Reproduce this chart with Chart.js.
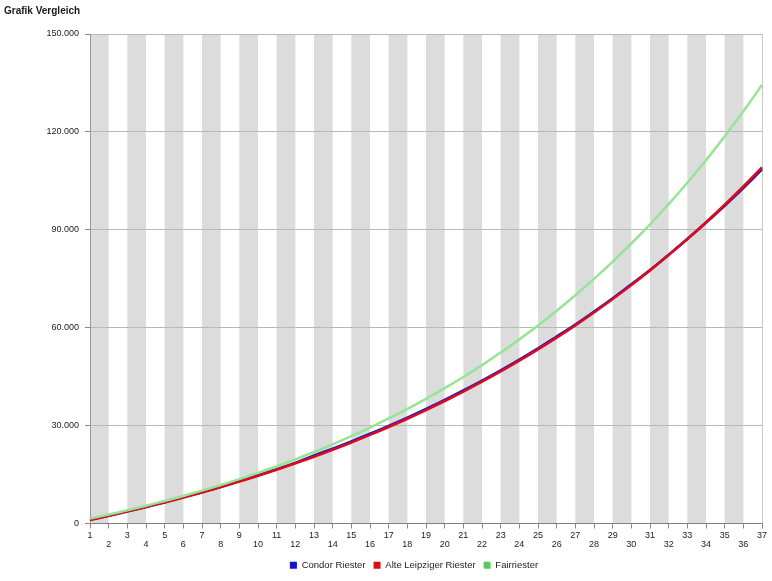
<!DOCTYPE html>
<html>
<head>
<meta charset="utf-8">
<script src="https://cdn.jsdelivr.net/npm/chart.js@4.4.1/dist/chart.umd.min.js"></script>
<style>
    html, body { margin: 0; padding: 0; background: #fff; overflow: hidden; }
</style>
</head>
<body>
<canvas id="myChart" width="772" height="581"></canvas>
<script>
// Jahre 1..37
var Jahre = [];
for (var j = 1; j <= 37; j++) { Jahre.push(String(j)); }

var Condor = [1150, 2400, 3710, 5080, 6510, 8010, 9570, 11200, 13010, 14790, 16650, 18600, 20830, 22960, 25180, 27500, 29930, 32460, 35110, 37880, 40770, 43800, 46960, 50260, 53710, 57310, 60980, 64920, 69030, 73330, 77670, 82370, 87170, 92150, 97360, 102810, 108510];
var AlteLeipziger = [1100, 2350, 3660, 5030, 6460, 7960, 9520, 11150, 12860, 14640, 16500, 18450, 20480, 22610, 24830, 27150, 29580, 32110, 34760, 37530, 40420, 43450, 46610, 49910, 53360, 56960, 60730, 64670, 68780, 73080, 77570, 82270, 87170, 92300, 97660, 103260, 109110];
var Fairriester = [1500, 2750, 4060, 5440, 6910, 8450, 10080, 11790, 13600, 15510, 17530, 19660, 21900, 24270, 26760, 29400, 32180, 35110, 38200, 41470, 44910, 48540, 52380, 56420, 60680, 65180, 69930, 74940, 80230, 85800, 91680, 97890, 104430, 111340, 118630, 126310, 134420];

var yTicks = [0, 30000, 60000, 90000, 120000, 150000];

function tausender(v) {
    return String(v).replace(/\B(?=(\d{3})+(?!\d))/g, '.');
}

// graue Streifen hinter dem Diagramm
var streifen = {
    id: 'streifen',
    beforeDraw: function (chart) {
        var ctx = chart.ctx;
        var x = chart.scales.x;
        var area = chart.chartArea;
        ctx.save();
        ctx.fillStyle = '#dcdcdc';
        for (var i = 0; i < Jahre.length - 1; i += 2) {
            var x1 = x.getPixelForTick(i);
            var x2 = x.getPixelForTick(i + 1);
            ctx.fillRect(x1, area.top, x2 - x1, area.bottom - area.top);
        }
        ctx.restore();
    }
};

// Legende etwas nach rechts ruecken (wie im Original)
var legendeVerschieben = {
    id: 'legendeVerschieben',
    afterLayout: function (chart) {
        var lg = chart.legend;
        if (!lg) return;
        var d = 414 - (lg.left + lg.right) / 2;
        lg.left += d;
        lg.right += d;
    }
};

window.onload = function () {
    var schrift = '"Liberation Sans", Arial, sans-serif';
    var chartdata = {
        labels: Jahre,
        datasets: [
            {
                label: 'Condor Riester',
                data: Condor,
                borderColor: '#1818c8',
                legendColor: '#1212c8',
                borderWidth: 2.5,
                order: 3
            },
            {
                label: 'Alte Leipziger Riester',
                data: AlteLeipziger,
                borderColor: '#dc0a1e',
                legendColor: '#dc0a14',
                borderWidth: 2.6,
                order: 2
            },
            {
                label: 'Fairriester',
                data: Fairriester,
                borderColor: '#96e496',
                legendColor: '#5cc85c',
                borderWidth: 2.5,
                order: 1
            }
        ]
    };

    var ctx = document.getElementById('myChart');
    var lineGraph = new Chart(ctx, {
        type: 'line',
        data: chartdata,
        plugins: [streifen, legendeVerschieben],
        options: {
            responsive: false,
            animation: false,
            devicePixelRatio: 1,
            elements: {
                point: { radius: 0 },
                line: { tension: 0.4, fill: false }
            },
            layout: {
                padding: { left: 4, right: 10, top: 0, bottom: 1 }
            },
            plugins: {
                title: {
                    display: true,
                    text: 'Grafik Vergleich',
                    align: 'start',
                    color: '#1a1a1a',
                    font: { family: schrift, size: 10, weight: 'bold' },
                    padding: { top: 5, bottom: 17 }
                },
                tooltip: { enabled: false },
                legend: {
                    position: 'bottom',
                    labels: {
                        boxWidth: 7,
                        boxHeight: 7,
                        padding: 8,
                        color: '#222',
                        font: { family: schrift, size: 9.5 },
                        generateLabels: function (chart) {
                            return chart.data.datasets.map(function (ds, i) {
                                return {
                                    text: ds.label,
                                    fillStyle: ds.legendColor,
                                    strokeStyle: ds.legendColor,
                                    lineWidth: 0,
                                    fontColor: '#222',
                                    hidden: !chart.isDatasetVisible(i),
                                    datasetIndex: i
                                };
                            });
                        }
                    }
                }
            },
            scales: {
                x: {
                    type: 'category',
                    offset: false,
                    afterFit: function (scale) { scale.height = 29; },
                    grid: {
                        drawOnChartArea: true,
                        color: function (c) { return c.index === Jahre.length - 1 ? '#c8c8c8' : 'rgba(0,0,0,0)'; },
                        tickColor: '#888',
                        tickLength: 5
                    },
                    border: { color: '#808080' },
                    ticks: {
                        autoSkip: false,
                        maxRotation: 0,
                        padding: 3,
                        color: '#1a1a1a',
                        font: { family: schrift, size: 9, lineHeight: 0.95 },
                        callback: function (val, index) {
                            var t = this.getLabelForValue(val);
                            return index % 2 === 0 ? t : ['', t];
                        }
                    }
                },
                y: {
                    min: 0,
                    max: 150000,
                    afterFit: function (scale) { scale.width = 86; },
                    afterBuildTicks: function (scale) {
                        scale.ticks = yTicks.map(function (v) { return { value: v }; });
                    },
                    grid: {
                        color: '#b8b8b8',
                        tickColor: '#888',
                        tickLength: 5
                    },
                    border: { color: '#999' },
                    ticks: {
                        padding: 6,
                        color: '#1a1a1a',
                        font: { family: schrift, size: 9 },
                        callback: function (v) { return tausender(v); }
                    }
                }
            }
        }
    });
};
</script>
</body>
</html>
